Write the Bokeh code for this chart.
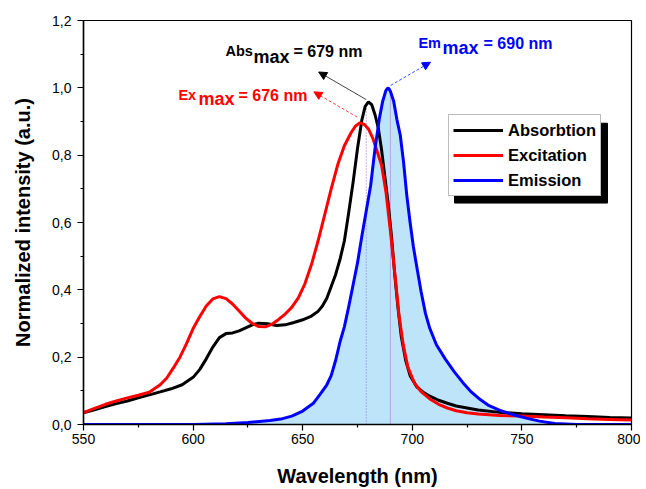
from bokeh.plotting import figure
from bokeh.models import (Range1d, FixedTicker, CustomJSTickFormatter, Legend, LegendItem,
                          Label, Arrow, NormalHead)
from bokeh.embed import file_html
from bokeh.resources import INLINE

# ---------------- data ----------------
abs_x = [550, 555, 560, 565, 570, 575, 580, 585, 590, 595, 600, 603, 606, 609, 612, 615, 618, 621,
         624, 627, 630, 634, 638, 642, 646, 650, 654, 657, 659, 661, 663, 665, 667, 669, 671, 673,
         675, 677, 678.5, 680, 681.5, 683, 684.5, 686, 687.5, 689, 690.5, 692, 693.5, 695, 697, 699,
         702, 705, 708, 712, 716, 720, 725, 730, 740, 750, 760, 770, 780, 790, 800]
abs_y = [0.035, 0.044, 0.053, 0.062, 0.070, 0.079, 0.088, 0.097, 0.106, 0.118, 0.140, 0.163, 0.195,
         0.230, 0.258, 0.270, 0.272, 0.278, 0.287, 0.296, 0.301, 0.299, 0.294, 0.296, 0.303, 0.311,
         0.322, 0.336, 0.352, 0.375, 0.410, 0.445, 0.490, 0.545, 0.630, 0.720, 0.820, 0.905, 0.945,
         0.958, 0.950, 0.920, 0.880, 0.815, 0.735, 0.655, 0.560, 0.445, 0.345, 0.260, 0.190, 0.145,
         0.112, 0.096, 0.084, 0.072, 0.063, 0.055, 0.049, 0.043, 0.036, 0.032, 0.029, 0.026, 0.024,
         0.021, 0.019]

exc_x = [550, 555, 560, 565, 570, 575, 580, 585, 588, 591, 594, 597, 600, 603, 606, 609, 612, 615,
         618, 621, 624, 627, 630, 633, 636, 639, 642, 645, 648, 651, 654, 657, 660, 663, 666, 669,
         672, 674, 676, 678, 680, 682, 684, 686, 688, 690, 692, 694, 696, 698, 701, 704, 708, 712,
         716, 720, 725, 730, 740, 750, 760, 770, 780, 790, 800]
exc_y = [0.035, 0.048, 0.060, 0.070, 0.079, 0.087, 0.096, 0.118, 0.138, 0.168, 0.200, 0.240, 0.285,
         0.320, 0.352, 0.373, 0.380, 0.374, 0.358, 0.337, 0.316, 0.300, 0.291, 0.290, 0.298, 0.312,
         0.328, 0.348, 0.376, 0.418, 0.475, 0.545, 0.622, 0.700, 0.772, 0.828, 0.866, 0.886, 0.896,
         0.892, 0.878, 0.850, 0.810, 0.770, 0.690, 0.575, 0.450, 0.320, 0.232, 0.170, 0.123, 0.098,
         0.076, 0.060, 0.049, 0.041, 0.035, 0.031, 0.027, 0.025, 0.022, 0.020, 0.017, 0.015, 0.013]

em_x = [550, 600, 615, 625, 635, 640, 645, 650, 655, 658, 661, 663, 665, 667, 669, 671, 673, 675,
        677, 679, 681, 683, 685, 686.5, 688, 689, 690, 691.5, 693, 694.5, 696, 697.5, 699, 700.5,
        702, 704, 706, 708, 711, 715, 719, 723, 727, 731, 735, 740, 746, 752, 758, 765, 775, 800]
em_y = [0.0, 0.0, 0.002, 0.006, 0.012, 0.016, 0.025, 0.040, 0.064, 0.090, 0.118, 0.145, 0.190,
        0.245, 0.290, 0.350, 0.415, 0.480, 0.560, 0.635, 0.710, 0.820, 0.910, 0.960, 0.993, 1.000,
        0.990, 0.960, 0.905, 0.860, 0.780, 0.680, 0.600, 0.528, 0.470, 0.395, 0.330, 0.285, 0.237,
        0.195, 0.158, 0.125, 0.096, 0.074, 0.056, 0.042, 0.029, 0.019, 0.010, 0.003, 0.0, 0.0]

abs_max_nm = 679
ex_max_nm = 676
em_max_nm = 690

x_ticks = [550, 600, 650, 700, 750, 800]
x_minor = [575, 625, 675, 725, 775]
y_ticks = [0.0, 0.2, 0.4, 0.6, 0.8, 1.0, 1.2]
y_minor = [0.1, 0.3, 0.5, 0.7, 0.9, 1.1]

FONT = "Liberation Sans"

# ---------------- figure ----------------
p = figure(width=640, height=489, output_backend="svg", toolbar_location=None,
           x_range=Range1d(550, 800), y_range=Range1d(0, 1.2),
           min_border_left=83, min_border_right=9, min_border_top=20, min_border_bottom=64)
p.grid.visible = False
p.outline_line_color = "black"
p.outline_line_width = 1.2
p.background_fill_color = "white"
p.border_fill_color = "white"

p.xaxis.ticker = FixedTicker(ticks=x_ticks, minor_ticks=x_minor)
p.yaxis.ticker = FixedTicker(ticks=y_ticks, minor_ticks=y_minor)
p.yaxis.formatter = CustomJSTickFormatter(code="return tick.toFixed(1).replace('.', ',');")

for ax in (p.xaxis[0], p.yaxis[0]):
    ax.axis_line_color = "black"
    ax.axis_line_width = 1.5
    ax.major_tick_line_color = "black"
    ax.minor_tick_line_color = "black"
    ax.major_tick_line_width = 1.2
    ax.minor_tick_line_width = 1.2
    ax.major_tick_out = 6
    ax.major_tick_in = 0
    ax.minor_tick_out = 3
    ax.minor_tick_in = 0
    ax.major_label_text_font = FONT
    ax.major_label_text_font_size = "14px"
    ax.major_label_text_color = "black"
    ax.axis_label_text_font = FONT
    ax.axis_label_text_font_size = "20px"
    ax.axis_label_text_font_style = "bold"
    ax.axis_label_text_color = "black"

p.xaxis.axis_label = "Wavelength (nm)"
p.yaxis.axis_label = "Normalized intensity (a.u.)"
p.xaxis.major_label_standoff = 3
p.xaxis.axis_label_standoff = 18
p.yaxis.major_label_standoff = 6
p.yaxis.axis_label_standoff = 15

# ---------------- legend shadow (pixel layout -> data) ----------------
frame_w, frame_h = 548, 405
leg_x, leg_y = 365, 228
leg_w, leg_h = 153, 80
sh = 6
def px2x(v):
    return 550 + v * (800 - 550) / frame_w
def px2y(v):
    return v * 1.2 / frame_h
p.quad(left=px2x(leg_x + sh), right=px2x(leg_x + leg_w + sh),
       bottom=px2y(leg_y - sh), top=px2y(leg_y + leg_h - sh),
       fill_color="black", line_color="black")

# ---------------- marks ----------------
p.varea(x=em_x, y1=[0] * len(em_x), y2=em_y, fill_color="#BEE4FA", fill_alpha=1.0)

p.segment(x0=[abs_max_nm], y0=[0], x1=[abs_max_nm], y1=[max(abs_y)],
          line_color="#9A66D8", line_width=1, line_dash="1 2")
p.segment(x0=[em_max_nm], y0=[0], x1=[em_max_nm], y1=[max(em_y)],
          line_color="#B9A2EC", line_width=1)

r_abs = p.line(abs_x, abs_y, line_color="black", line_width=3)
r_exc = p.line(exc_x, exc_y, line_color="#FF0000", line_width=3)
r_em = p.line(em_x, em_y, line_color="#0000FF", line_width=3)

legend = Legend(items=[LegendItem(label="Absorbtion", renderers=[r_abs]),
                       LegendItem(label="Excitation", renderers=[r_exc]),
                       LegendItem(label="Emission", renderers=[r_em])],
                location=(leg_x, leg_y), padding=4, spacing=3, margin=0,
                glyph_width=50, glyph_height=22, label_standoff=5, label_height=22,
                label_text_font=FONT, label_text_font_size="16.5px",
                label_text_font_style="bold", label_text_color="black",
                border_line_color="#7A7A7A", border_line_width=1,
                background_fill_color="white", background_fill_alpha=1.0)
p.add_layout(legend)

# ---------------- annotations ----------------
def add_label(x, y, text, color, size):
    p.add_layout(Label(x=x, y=y, text=text, text_color=color, text_font=FONT,
                       text_font_size=size, text_font_style="bold",
                       text_baseline="alphabetic", text_align="left"))

add_label(614.8, 1.108, "Abs", "black", "14.5px")
add_label(627.6, 1.093, "max", "black", "18px")
add_label(645.8, 1.108, "= %d nm" % abs_max_nm, "black", "16px")

add_label(702.8, 1.132, "Em", "#0000FF", "14.5px")
add_label(713.8, 1.117, "max", "#0000FF", "18px")
add_label(732.5, 1.132, "= %d nm" % em_max_nm, "#0000FF", "16px")

add_label(593.3, 0.978, "Ex", "#FF0000", "14.5px")
add_label(602.5, 0.966, "max", "#FF0000", "18px")
add_label(620.7, 0.978, "= %d nm" % ex_max_nm, "#FF0000", "16px")

p.add_layout(Arrow(x_start=679, y_start=0.965, x_end=657.3, y_end=1.047,
                   line_color="#444444", line_width=1,
                   end=NormalHead(size=8, fill_color="black", line_color="black")))
p.add_layout(Arrow(x_start=674.9, y_start=0.913, x_end=655.1, y_end=0.988,
                   line_color="#FF4040", line_width=1, line_dash="3 2",
                   end=NormalHead(size=8, fill_color="#FF0000", line_color="#FF0000")))
p.add_layout(Arrow(x_start=690.1, y_start=1.007, x_end=708.3, y_end=1.076,
                   line_color="#3050FF", line_width=1, line_dash="3 2",
                   end=NormalHead(size=8, fill_color="#0000FF", line_color="#0000FF")))

open("out.html", "w").write(file_html(p, INLINE))
